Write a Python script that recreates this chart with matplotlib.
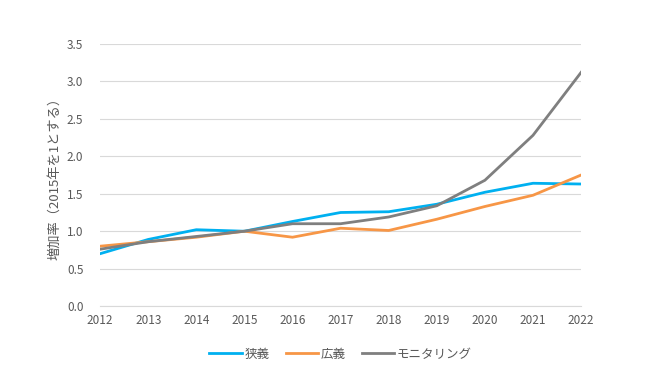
import matplotlib
matplotlib.use("Agg")
import matplotlib.pyplot as plt

plt.rcParams["font.family"] = ["Noto Sans CJK JP", "DejaVu Sans"]

years = [2012, 2013, 2014, 2015, 2016, 2017, 2018, 2019, 2020, 2021, 2022]
narrow = [0.70, 0.89, 1.02, 1.00, 1.13, 1.25, 1.26, 1.36, 1.52, 1.64, 1.63]
broad = [0.80, 0.86, 0.92, 1.00, 0.92, 1.04, 1.01, 1.16, 1.33, 1.48, 1.75]
monitoring = [0.76, 0.86, 0.93, 1.00, 1.10, 1.10, 1.19, 1.34, 1.68, 2.28, 3.12]

labels = ["狭義", "広義", "モニタリング"]
colors = ["#00B0F0", "#F79646", "#7F7F7F"]

fig = plt.figure(figsize=(6.5, 3.72), dpi=100)
ax = fig.add_axes([0.154, 0.177, 0.740, 0.705])

for vals, lab, col in zip([narrow, broad, monitoring], labels, colors):
    ax.plot(years, vals, color=col, lw=2.0, label=lab)

ax.set_xlim(2012, 2022)
ax.set_ylim(0, 3.5)
ax.set_xticks(years)
ax.set_yticks([0.0, 0.5, 1.0, 1.5, 2.0, 2.5, 3.0, 3.5])
ax.set_yticklabels([f"{v:.1f}" for v in ax.get_yticks()])
ax.grid(axis="y", color="#D9D9D9", lw=0.8)
ax.set_axisbelow(True)
for s in ["top", "right", "left"]:
    ax.spines[s].set_visible(False)
ax.spines["bottom"].set_color("#D9D9D9")
ax.tick_params(length=0, colors="#595959", labelsize=8.5)
ax.tick_params(axis="y", pad=12)
ax.tick_params(axis="x", pad=6)
ax.set_ylabel("増加率（2015年を1とする）", color="#595959", fontsize=9.5, labelpad=4)

ax.legend(loc="upper center", bbox_to_anchor=(0.5, -0.115), ncol=3, frameon=False,
          fontsize=9, labelcolor="#595959", handlelength=2.6, columnspacing=1.3,
          handletextpad=0.2)

fig.savefig("out.png", dpi=100)
